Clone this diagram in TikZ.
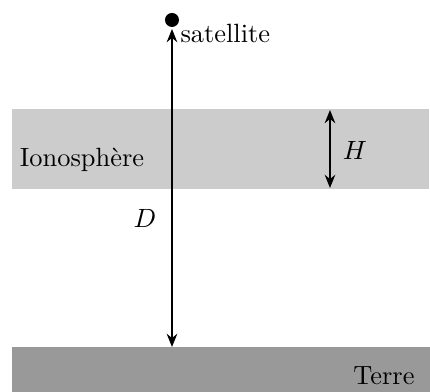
\documentclass[tikz,border=0pt]{standalone}
\usetikzlibrary{arrows.meta}
\begin{document}
\begin{tikzpicture}[x=0.3788pt,y=-0.3788pt,
  arr/.style={line width=0.75pt,{Stealth[length=5pt,width=4pt]}-{Stealth[length=5pt,width=4pt]}},
  lbl/.style={inner sep=0pt}]
\useasboundingbox (0,0) rectangle (430,392);
\fill[black!20] (12,109) rectangle (429,189);
\fill[black!40] (12,347) rectangle (430,392);
\fill[black] (172,20) circle (7);
\coordinate (top) at (172,29);
\coordinate (bot) at (172,347);
\coordinate (htop) at (330,110);
\coordinate (hbot) at (330,188);
\draw[arr] (top) -- (bot);
\draw[arr] (htop) -- (hbot);
\node[lbl,anchor=west] (sat) at (180,33) {satellite};
\node[lbl] (iono) at (82,160) {Ionosph\`ere};
\node[lbl] (H) at (355,150) {$H$};
\node[lbl] (D) at (145,218) {$D$};
\node[lbl] (terre) at (384,376) {Terre};
\end{tikzpicture}
\end{document}
